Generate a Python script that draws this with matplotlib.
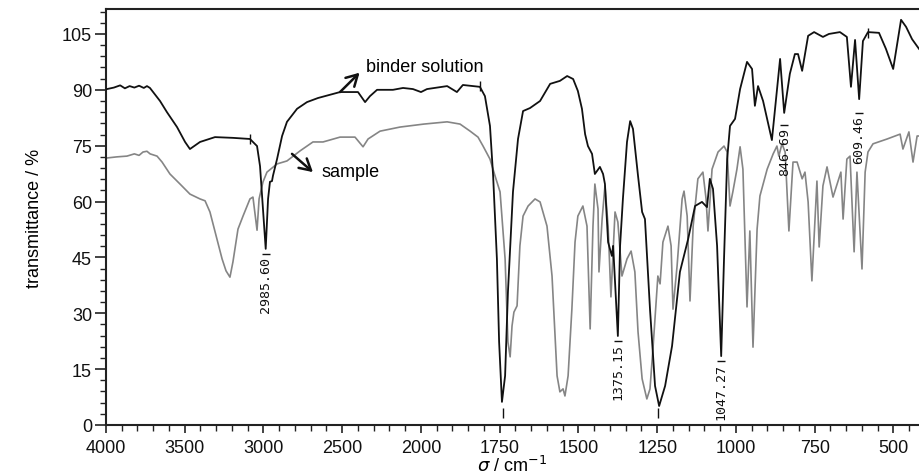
import numpy as np
import matplotlib
matplotlib.use("Agg")
import matplotlib.pyplot as plt
from matplotlib.ticker import FixedLocator, FormatStrFormatter

plt.rcParams['font.family'] = ['Liberation Sans', 'DejaVu Sans']

# binder solution spectrum (black)
binder_wn = [3994, 3950, 3910, 3880, 3850, 3820, 3790, 3760, 3740, 3721,
             3657, 3613, 3549, 3498, 3467, 3403, 3308, 3194, 3086, 3041,
             3022, 3003, 2986, 2971, 2959, 2946, 2940, 2914, 2882, 2851,
             2787, 2724, 2654, 2514, 2400, 2355, 2324, 2279, 2178, 2114,
             2051, 2000, 1981, 1917, 1886, 1867, 1813, 1797, 1781, 1771,
             1759, 1752, 1743, 1733, 1724, 1708, 1692, 1676, 1654, 1622,
             1590, 1559, 1536, 1517, 1502, 1489, 1479, 1470, 1457, 1448,
             1432, 1422, 1416, 1406, 1394, 1390, 1375, 1368, 1359, 1346,
             1336, 1327, 1311, 1298, 1289, 1273, 1257, 1244, 1225, 1203,
             1178, 1152, 1130, 1108, 1092, 1083, 1073, 1060, 1047, 1038,
             1028, 1019, 1003, 987, 965, 949, 940, 930, 914, 886,
             860, 847, 829, 813, 803, 790, 771, 752, 724, 705,
             670, 648, 635, 622, 609, 597, 581, 546, 524, 501,
             476, 460, 441, 419]
binder_t = [90.2, 90.6, 91.2, 90.4, 91.0, 90.6, 91.1, 90.5, 91.0, 90.5,
            87.0, 84.0, 80.0, 76.0, 74.1, 76.0, 77.3, 77.1, 76.8, 74.9,
            69.5, 58.0, 47.3, 60.7, 65.3, 65.5, 66.9, 71.4, 77.6, 81.4,
            84.9, 86.7, 87.8, 89.4, 89.4, 86.7, 88.3, 90.0, 90.0, 90.5,
            90.2, 89.4, 90.2, 91.0, 89.4, 91.3, 90.8, 88.3, 80.3, 66.9,
            44.6, 22.3, 6.2, 13.2, 35.7, 62.6, 76.8, 84.3, 85.1, 87.0,
            91.6, 92.4, 93.7, 92.9, 89.7, 84.9, 78.1, 74.9, 72.8, 67.4,
            69.3, 67.4, 64.7, 49.1, 45.4, 48.1, 23.9, 48.1, 60.7, 76.0,
            81.6, 79.5, 66.9, 57.2, 55.3, 31.1, 10.5, 5.1, 10.5, 21.2,
            41.1, 49.9, 58.8, 59.9, 58.5, 66.1, 63.4, 48.1, 18.5, 44.6,
            71.4, 80.3, 82.2, 90.2, 97.5, 95.6, 85.7, 91.0, 87.0, 76.5,
            98.3, 83.8, 94.3, 99.6, 99.6, 95.1, 104.5, 105.5, 104.2, 105.0,
            105.5, 104.2, 90.8, 103.4, 87.5, 103.1, 105.5, 105.3, 101.0, 95.6,
            108.8, 106.9, 103.6, 101.0]

# sample spectrum (grey)
sample_wn = [3994, 3930, 3867, 3820, 3790, 3765, 3740, 3720, 3676, 3644,
             3594, 3530, 3467, 3403, 3371, 3340, 3295, 3263, 3238, 3213,
             3194, 3162, 3130, 3086, 3067, 3041, 3028, 3003, 2978, 2914,
             2851, 2768, 2686, 2622, 2514, 2419, 2368, 2336, 2260, 2133,
             1991, 1917, 1876, 1844, 1819, 1803, 1781, 1765, 1749, 1733,
             1724, 1717, 1711, 1705, 1695, 1686, 1676, 1660, 1638, 1622,
             1600, 1584, 1568, 1559, 1549, 1543, 1533, 1521, 1511, 1502,
             1486, 1473, 1463, 1454, 1448, 1438, 1435, 1425, 1416, 1406,
             1397, 1384, 1375, 1362, 1346, 1333, 1321, 1311, 1298, 1283,
             1273, 1263, 1248, 1241, 1232, 1216, 1206, 1200, 1187, 1171,
             1165, 1155, 1146, 1136, 1121, 1105, 1095, 1089, 1076, 1057,
             1038, 1028, 1019, 1010, 997, 987, 978, 965, 956, 946,
             933, 924, 901, 882, 870, 864, 854, 844, 832, 819,
             806, 790, 781, 771, 759, 743, 736, 724, 711, 692,
             676, 667, 660, 648, 638, 625, 616, 600, 590, 581,
             565, 520, 495, 479, 470, 451, 438, 425, 419]
sample_t = [71.7, 72.0, 72.2, 72.8, 72.4, 73.3, 73.5, 72.8, 72.2, 70.6,
            67.4, 64.7, 62.0, 60.7, 60.2, 57.2, 49.9, 44.6, 41.4, 39.7,
            43.8, 52.6, 56.1, 60.7, 61.2, 52.3, 60.7, 65.3, 67.9, 70.1,
            70.9, 73.6, 76.0, 76.0, 77.3, 77.3, 74.7, 76.8, 78.9, 80.0,
            80.8, 81.4, 80.8, 78.9, 77.3, 74.9, 71.4, 66.9, 62.6, 44.6,
            22.3, 18.3, 26.6, 30.3, 32.0, 48.1, 56.1, 58.8, 60.7, 59.9,
            53.4, 40.0, 13.2, 8.9, 9.7, 7.8, 13.2, 31.1, 49.1, 56.1,
            58.8, 53.4, 25.8, 53.4, 64.7, 58.0, 41.1, 55.3, 64.2, 53.4,
            34.4, 57.2, 54.5, 40.0, 44.6, 46.7, 41.1, 25.0, 12.4, 7.0,
            9.7, 21.2, 40.0, 37.9, 49.1, 53.4, 48.1, 31.1, 42.7, 60.7,
            62.8, 56.1, 33.3, 53.4, 66.1, 67.9, 60.7, 52.1, 68.7, 73.3,
            74.9, 73.3, 58.8, 62.6, 68.7, 74.7, 68.7, 31.7, 52.1, 20.9,
            52.6, 61.5, 68.7, 72.8, 74.9, 72.2, 75.5, 73.3, 52.1, 70.6,
            70.6, 66.1, 67.9, 59.9, 38.7, 65.5, 47.8, 64.2, 69.3, 61.2,
            65.5, 67.9, 55.3, 71.4, 72.2, 46.5, 67.9, 41.9, 67.9, 73.3,
            75.5, 76.8, 77.6, 78.1, 74.1, 78.7, 70.6, 77.6, 77.6]

# labelled peaks of the binder solution
peak_labels = ['2985.60', '1375.15', '1047.27', '846.69', '609.46']
peak_wn = [2985.60, 1375.15, 1047.27, 846.69, 609.46]
peak_bar_t = [45.9, 22.6, 17.2, 80.6, 83.8]
# peaks whose labels fall below the axis
hidden_peak_wn = [1740, 1248]
# small cursor marks on the black trace
mark_wn = [3086, 1813, 581]
mark_t = [76.8, 91.0, 105.2]

major_ticks = [4000, 3500, 3000, 2500, 2000, 1750, 1500, 1250, 1000, 750, 500]
y_ticks = [0, 15, 30, 45, 60, 75, 90, 105]


# spectrometer style axis: scale doubles below 2000 cm-1
def fwd(x):
    x = np.asarray(x, dtype=float)
    return np.where(x <= 2000, x, 2000 + (x - 2000) / 2)


def inv(u):
    u = np.asarray(u, dtype=float)
    return np.where(u <= 2000, u, 2000 + (u - 2000) * 2)


fig = plt.figure(figsize=(9.19, 4.77), dpi=100)
ax = fig.add_axes([106 / 919, 51 / 477, 813 / 919, 416 / 477])
ax.set_xscale('function', functions=(fwd, inv))

ax.plot(sample_wn, sample_t, color='#858585', lw=1.2, zorder=2)
ax.plot(binder_wn, binder_t, color='#111111', lw=1.3, zorder=3)
ax.plot(mark_wn, mark_t, '|', color='#111111', ms=7, mew=1.0, zorder=4)

for lab, wn, bt in zip(peak_labels, peak_wn, peak_bar_t):
    ax.plot([wn], [bt], '_', color='#111111', ms=6, mew=1.0)
    ax.text(wn, bt - 0.6, lab, rotation=90, ha='center', va='top',
            fontsize=9.5, family=['DejaVu Sans Mono'], color='#111111')
ax.vlines(hidden_peak_wn, 2.0, 4.6, color='#111111', lw=1.0)

ax.annotate('', xy=(2390, 94.6), xytext=(2514, 89.4),
            arrowprops=dict(arrowstyle='->, head_length=0.8, head_width=0.45',
                            lw=1.8, color='#111111', shrinkA=0, shrinkB=0))
ax.text(2352, 96.2, 'binder solution', ha='left', va='center', fontsize=13)
ax.annotate('', xy=(2686, 67.9), xytext=(2819, 72.8),
            arrowprops=dict(arrowstyle='->, head_length=0.8, head_width=0.45',
                            lw=1.8, color='#111111', shrinkA=0, shrinkB=0))
ax.text(2632, 68.0, 'sample', ha='left', va='center', fontsize=13)

ax.set_xlim(4000, 419)
ax.set_ylim(0, 111.7)

ax.xaxis.set_major_locator(FixedLocator(major_ticks))
minor_x = [v for v in list(range(3900, 2000, -100)) + list(range(1950, 400, -50))
           if v not in major_ticks]
ax.xaxis.set_minor_locator(FixedLocator(minor_x))
ax.xaxis.set_major_formatter(FormatStrFormatter('%d'))
ax.set_yticks(y_ticks)
ax.yaxis.set_minor_locator(FixedLocator(np.arange(0, 112, 3)))

ax.tick_params(axis='both', which='both', direction='out', color='#222222',
               labelsize=13, labelcolor='#111111')
ax.tick_params(axis='x', which='major', length=6, width=1.2, pad=4)
ax.tick_params(axis='x', which='minor', length=4, width=1.0)
ax.tick_params(axis='y', which='major', length=8, width=1.2, pad=2)
ax.tick_params(axis='y', which='minor', length=4.5, width=1.0)

for side in ['left', 'bottom', 'top']:
    ax.spines[side].set_linewidth(1.5)
    ax.spines[side].set_color('#222222')
ax.spines['right'].set_visible(False)

ax.set_xlabel(r'$\sigma$ / cm$^{-1}$', fontsize=13, labelpad=-1)
ax.set_ylabel('transmittance / %', fontsize=13, labelpad=14)

fig.savefig('out.png', dpi=100)
